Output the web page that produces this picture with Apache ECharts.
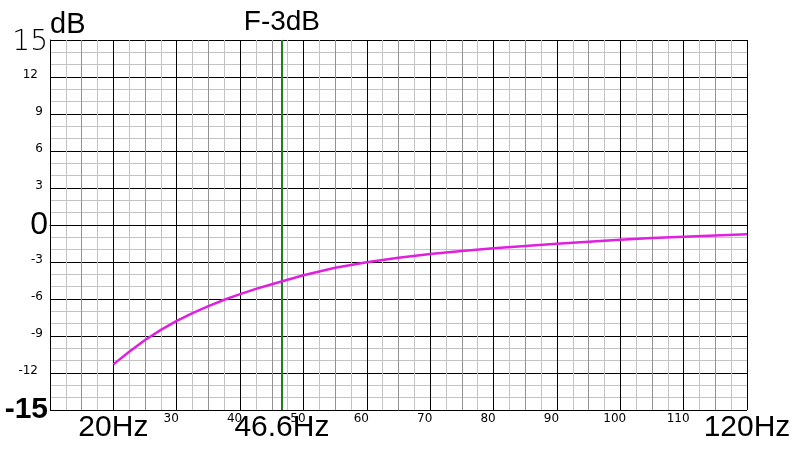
<!DOCTYPE html>
<html>
<head>
<meta charset="utf-8">
<script src="https://cdn.jsdelivr.net/npm/echarts@6/dist/echarts.min.js"></script>
<style>html,body{margin:0;padding:0;background:#fff;}#c{width:798px;height:450px;}</style>
</head>
<body>
<div id="c"></div>
<script>
// Frequency (Hz) and response (dB)
const freqs = [20, 22.5, 25, 27.5, 30, 32.5, 35, 37.5, 40, 42.5, 45, 47.5, 50, 55, 60, 65, 70, 75, 80, 85, 90, 95, 100, 105, 110, 115, 120];
const dbVals = [-11.3, -10.27, -9.32, -8.5, -7.78, -7.15, -6.58, -6.06, -5.6, -5.18, -4.8, -4.44, -4.08, -3.47, -3.02, -2.65, -2.35, -2.1, -1.89, -1.7, -1.52, -1.35, -1.2, -1.06, -0.95, -0.85, -0.76];
const f3dB = 46.6;
const f3dBLabel = '46.6Hz';
const f3dBTitle = 'F-3dB';
const xSmallTicks = [30, 40, 50, 60, 70, 80, 90, 100, 110];
const xBigTicks = {20: '20Hz', 120: '120Hz'};
const ySmallTicks = [12, 9, 6, 3, -3, -6, -9, -12];
const yBigTicks = {15: '15', 0: '0', '-15': '-15'};
const yUnit = 'dB';

const BLACK = '#000000', LIGHT = '#c4c4c4', MID = '#939393';

const chart = echarts.init(document.getElementById('c'), null, {renderer: 'canvas'});
chart.setOption({
  animation: false,
  backgroundColor: '#ffffff',
  grid: {left: 50, right: 51, top: 40, bottom: 40, containLabel: false, outerBoundsMode: 'none'},
  xAxis: {
    type: 'value', min: 10, max: 120, interval: 2.5,
    axisLine: {show: true, lineStyle: {color: BLACK, width: 1}},
    axisTick: {show: false},
    splitLine: {show: true, lineStyle: {color: [BLACK, LIGHT, MID, LIGHT], width: 1}},
    axisLabel: {
      margin: 3,
      showMinLabel: true, showMaxLabel: true,
      formatter: function (v) {
        if (xBigTicks[v] !== undefined) return '{b|' + xBigTicks[v] + '}';
        if (xSmallTicks.indexOf(v) >= 0) return '{s|' + v + '}';
        return '';
      },
      rich: {
        b: {fontFamily: 'Liberation Sans', fontSize: 30, color: '#000', padding: [0, 0, 0, 0]},
        s: {fontFamily: 'DejaVu Sans', fontSize: 12, color: '#000', padding: [0, 11, 0, 0]}
      }
    }
  },
  yAxis: {
    type: 'value', min: -15, max: 15, interval: 1,
    name: yUnit, nameLocation: 'end', nameGap: 1, nameMoveOverlap: false,
    nameTextStyle: {fontFamily: 'Liberation Sans', fontSize: 29, color: '#000', align: 'left', verticalAlign: 'bottom', padding: [0, 0, 0, 0]},
    axisLine: {show: true, lineStyle: {color: BLACK, width: 1}},
    axisTick: {show: false},
    splitLine: {show: true, lineStyle: {color: [BLACK, LIGHT, LIGHT], width: 1}},
    axisLabel: {
      margin: 2,
      showMinLabel: true, showMaxLabel: true,
      formatter: function (v) {
        const k = String(v);
        if (yBigTicks[k] !== undefined) {
          if (v === 15) return '{t|' + yBigTicks[k] + '}';
          if (v === -15) return '{m|' + yBigTicks[k] + '}';
          return '{z|' + yBigTicks[k] + '}';
        }
        if (ySmallTicks.indexOf(v) >= 0) {
          return (Math.abs(v) >= 10 ? '{w|' : '{s|') + v + '}';
        }
        return '';
      },
      rich: {
        t: {fontFamily: 'DejaVu Sans', fontWeight: 200, fontSize: 28, color: '#000', padding: [6, 0, 0, 0]},
        m: {fontFamily: 'Liberation Sans', fontWeight: 'bold', fontSize: 30, color: '#000'},
        z: {fontFamily: 'Liberation Sans', fontSize: 32, color: '#000'},
        s: {fontFamily: 'DejaVu Sans', fontSize: 12, color: '#000', padding: [0, 5, 4, 0]},
        w: {fontFamily: 'DejaVu Sans', fontSize: 12, color: '#000', padding: [0, 10, 4, 0]}
      }
    }
  },
  series: [{
    type: 'line',
    data: freqs.map((f, i) => [f, dbVals[i]]),
    showSymbol: false,
    smooth: false,
    lineStyle: {color: '#e020e0', width: 2.5},
    z: 5,
    markLine: {
      silent: true,
      symbol: ['none', 'none'],
      animation: false,
      data: [
        {xAxis: f3dB, lineStyle: {color: '#1f7f1f', width: 2, type: 'solid'},
         label: {show: true, position: 'end', distance: 4, formatter: f3dBTitle, fontFamily: 'Liberation Sans', fontSize: 28, color: '#000'}},
        {xAxis: f3dB, lineStyle: {color: '#1f7f1f', width: 2, type: 'solid'},
         label: {show: true, position: 'start', distance: 3, formatter: f3dBLabel, fontFamily: 'Liberation Sans', fontSize: 30, color: '#000'}}
      ]
    }
  }]
});
</script>
</body>
</html>
